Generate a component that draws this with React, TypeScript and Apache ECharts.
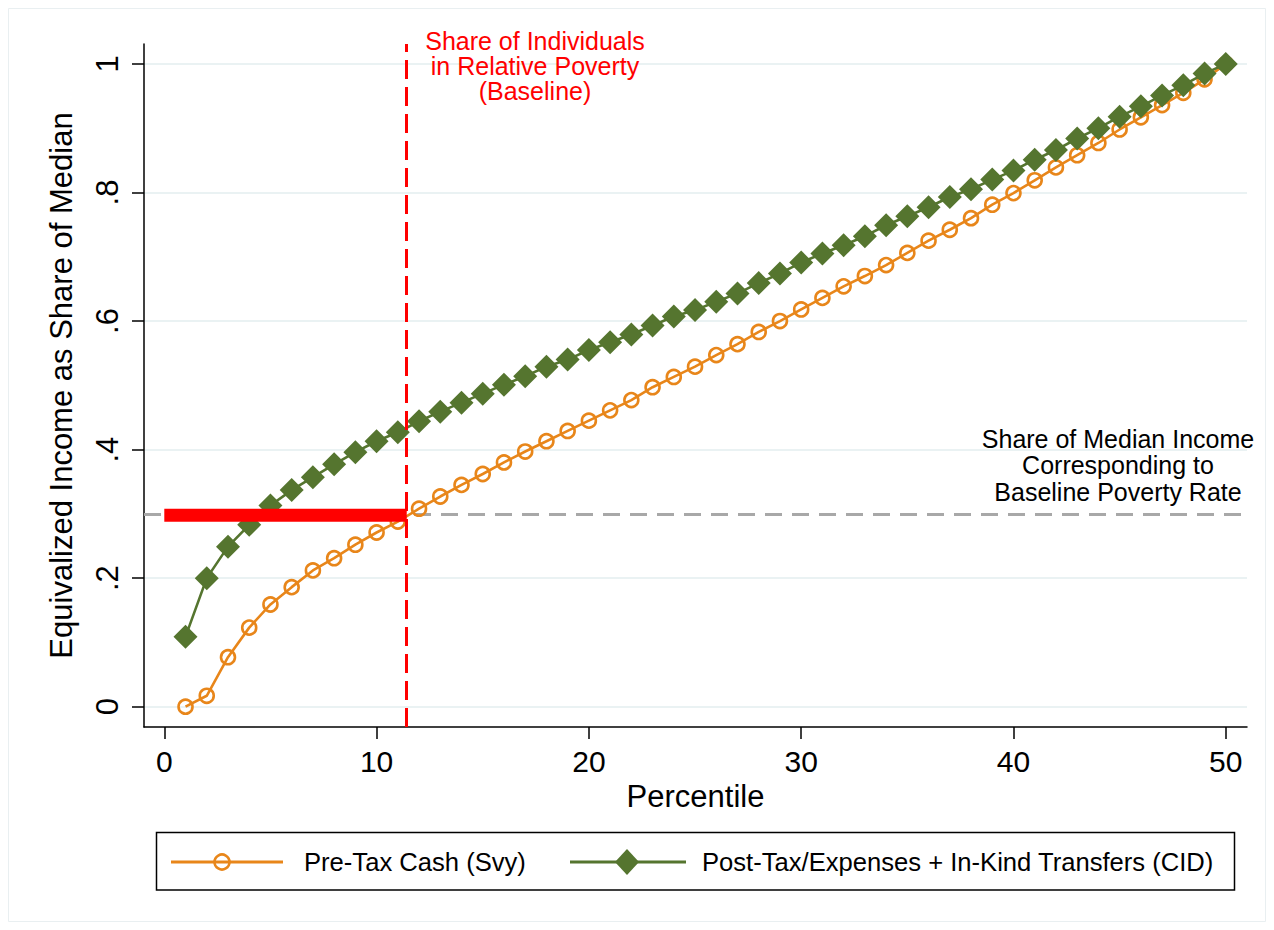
import React, { useEffect, useRef } from 'react';
import * as echarts from 'echarts';

// ---- Data ----
const percentiles = [
  1, 2, 3, 4, 5, 6, 7, 8, 9, 10, 11, 12, 13, 14, 15, 16, 17, 18, 19, 20, 21, 22, 23, 24, 25,
  26, 27, 28, 29, 30, 31, 32, 33, 34, 35, 36, 37, 38, 39, 40, 41, 42, 43, 44, 45, 46, 47, 48, 49, 50,
];
const preTaxCash = [
  0.0, 0.017, 0.077, 0.123, 0.159, 0.186, 0.212, 0.231, 0.252, 0.271,
  0.288, 0.308, 0.327, 0.345, 0.362, 0.38, 0.397, 0.413, 0.429, 0.445,
  0.461, 0.477, 0.497, 0.513, 0.529, 0.547, 0.564, 0.583, 0.6, 0.618,
  0.636, 0.654, 0.67, 0.687, 0.706, 0.725, 0.742, 0.76, 0.781, 0.799,
  0.819, 0.839, 0.858, 0.877, 0.898, 0.917, 0.936, 0.955, 0.976, 1.0,
];
const postTaxInKind = [
  0.109, 0.2, 0.249, 0.283, 0.313, 0.337, 0.357, 0.377, 0.396, 0.413,
  0.427, 0.444, 0.459, 0.473, 0.487, 0.501, 0.514, 0.529, 0.54, 0.555,
  0.567, 0.579, 0.593, 0.607, 0.617, 0.63, 0.643, 0.659, 0.674, 0.691,
  0.705, 0.718, 0.732, 0.749, 0.763, 0.777, 0.793, 0.805, 0.82, 0.834,
  0.851, 0.866, 0.884, 0.9, 0.918, 0.934, 0.951, 0.967, 0.985, 1.0,
];
const seriesNames = ['Pre-Tax Cash (Svy)', 'Post-Tax/Expenses + In-Kind Transfers (CID)'];
const xTicks = [0, 10, 20, 30, 40, 50];
const xTickLabels = ['0', '10', '20', '30', '40', '50'];
const yTicks = [0, 0.2, 0.4, 0.6, 0.8, 1];
const yTickLabels = ['0', '.2', '.4', '.6', '.8', '1'];
const povertyPercentile = 11.42;
const povertyShare = 0.2977;
const xTitle = 'Percentile';
const yTitle = 'Equivalized Income as Share of Median';
const redNote = ['Share of Individuals', 'in Relative Poverty', '(Baseline)'];
const blackNote = ['Share of Median Income', 'Corresponding to', 'Baseline Poverty Rate'];

// ---- Styles ----
const FONT = '"Liberation Sans", Arial, Helvetica, sans-serif';
const ORANGE = '#e8861a';
const GREEN = '#55752f';
const RED = '#ff0000';
const GRIDC = '#eaf2f3';
const GRAYDASH = '#a8a8a8';

function noteLines(lines: string[], cx: number, firstY: number, step: number, color: string) {
  return lines.map((t, i) => ({
    type: 'text',
    z: 10,
    silent: true,
    x: cx,
    y: firstY + i * step,
    style: {
      text: t,
      fill: color,
      fontSize: 25,
      fontFamily: FONT,
      align: 'center',
      verticalAlign: 'middle',
    },
  }));
}

export default function App() {
  const ref = useRef<HTMLDivElement>(null);

  useEffect(() => {
    if (!ref.current) return;
    const chart = echarts.init(ref.current, undefined, { renderer: 'svg' });
    const legendY = 862;
    const option: any = {
      animation: false,
      backgroundColor: '#ffffff',
      textStyle: { fontFamily: FONT },
      grid: { left: 144, right: 27, top: 44, bottom: 203, containLabel: false, outerBoundsMode: 'none' },
      xAxis: {
        type: 'value',
        min: -0.956,
        max: 51.0,
        axisLine: { show: true, onZero: false, lineStyle: { color: '#000', width: 1.5 } },
        axisTick: { show: true, length: 12, customValues: xTicks, lineStyle: { color: '#000', width: 1.5 } },
        axisLabel: {
          show: true,
          customValues: xTicks,
          fontSize: 30,
          color: '#000',
          margin: 19,
          fontFamily: FONT,
          formatter: (v: number) => xTickLabels[Math.round(v / 10)],
        },
        splitLine: { show: false },
        name: xTitle,
        nameLocation: 'middle',
        nameGap: 53,
        nameTextStyle: { fontSize: 31, color: '#000', fontFamily: FONT },
      },
      yAxis: {
        type: 'value',
        min: -0.0316,
        max: 1.031,
        axisLine: { show: true, onZero: false, lineStyle: { color: '#000', width: 1.5 } },
        axisTick: { show: true, length: 12, customValues: yTicks, lineStyle: { color: '#000', width: 1.5 } },
        axisLabel: {
          show: true,
          customValues: yTicks,
          rotate: 90,
          fontSize: 31,
          color: '#000',
          margin: 21,
          fontFamily: FONT,
          formatter: (v: number) => yTickLabels[Math.round(v / 0.2)],
        },
        splitLine: { show: true, lineStyle: { color: GRIDC, width: 2 } },
        name: yTitle,
        nameLocation: 'middle',
        nameGap: 67,
        nameTextStyle: { fontSize: 31, color: '#000', fontFamily: FONT },
      },
      series: [
        {
          name: 'baselineShare',
          type: 'line',
          data: [[povertyPercentile, povertyShare]],
          symbol: 'none',
          showSymbol: false,
          silent: true,
          z: 1,
          lineStyle: { width: 0 },
          markLine: {
            silent: true,
            z: 1,
            symbol: ['none', 'none'],
            label: { show: false },
            emphasis: { disabled: true },
            lineStyle: { color: GRAYDASH, width: 3, type: [17, 10] },
            data: [{ yAxis: povertyShare }],
          },
        },
        {
          name: seriesNames[0],
          type: 'line',
          data: percentiles.map((p, i) => [p, preTaxCash[i]]),
          symbol: 'circle',
          symbolSize: 14,
          silent: true,
          z: 3,
          itemStyle: { color: 'rgba(0,0,0,0)', borderColor: ORANGE, borderWidth: 2.6 },
          lineStyle: { color: ORANGE, width: 2.6 },
          emphasis: { disabled: true },
        },
        {
          name: seriesNames[1],
          type: 'line',
          data: percentiles.map((p, i) => [p, postTaxInKind[i]]),
          symbol: 'diamond',
          symbolSize: 24,
          silent: true,
          z: 4,
          itemStyle: { color: GREEN },
          lineStyle: { color: GREEN, width: 2.6 },
          emphasis: { disabled: true },
        },
        {
          name: 'povertyBar',
          type: 'line',
          data: [
            [0, povertyShare],
            [povertyPercentile, povertyShare],
          ],
          symbol: 'none',
          silent: true,
          z: 5,
          lineStyle: { color: RED, width: 13, cap: 'butt' },
          emphasis: { disabled: true },
          markLine: {
            silent: true,
            z: 6,
            symbol: ['none', 'none'],
            label: { show: false },
            emphasis: { disabled: true },
            lineStyle: { color: RED, width: 3, type: [19, 8] },
            data: [{ xAxis: povertyPercentile }],
          },
        },
      ],
      graphic: [
        {
          type: 'rect',
          z: -1,
          silent: true,
          shape: { x: 8.5, y: 8.5, width: 1257, height: 913 },
          style: { fill: 'none', stroke: '#e9eff1', lineWidth: 1 },
        },
        ...noteLines(redNote, 535, 40.5, 25, RED),
        ...noteLines(blackNote, 1118, 438.5, 26.5, '#000'),
        {
          type: 'group',
          z: 10,
          silent: true,
          children: [
            {
              type: 'rect',
              shape: { x: 156.5, y: 832.5, width: 1078, height: 57.5 },
              style: { fill: '#fff', stroke: '#000', lineWidth: 1.5 },
            },
            {
              type: 'line',
              shape: { x1: 171, y1: legendY, x2: 283, y2: legendY },
              style: { stroke: ORANGE, lineWidth: 3 },
            },
            {
              type: 'circle',
              shape: { cx: 222, cy: legendY, r: 7.5 },
              style: { fill: 'rgba(0,0,0,0)', stroke: ORANGE, lineWidth: 2.6 },
            },
            {
              type: 'text',
              x: 304,
              y: legendY,
              style: { text: seriesNames[0], fill: '#000', fontSize: 25.6, fontFamily: FONT, align: 'left', verticalAlign: 'middle' },
            },
            {
              type: 'line',
              shape: { x1: 570, y1: legendY, x2: 686, y2: legendY },
              style: { stroke: GREEN, lineWidth: 3 },
            },
            {
              type: 'polygon',
              shape: { points: [[627, legendY - 13], [639, legendY], [627, legendY + 13], [615, legendY]] },
              style: { fill: GREEN },
            },
            {
              type: 'text',
              x: 702,
              y: legendY,
              style: { text: seriesNames[1], fill: '#000', fontSize: 25.6, fontFamily: FONT, align: 'left', verticalAlign: 'middle' },
            },
          ],
        },
      ],
    };
    chart.setOption(option);
    return () => {
      chart.dispose();
    };
  }, []);

  return (
    <div
      ref={ref}
      style={{ position: 'fixed', left: 0, top: 0, width: 1274, height: 930, background: '#fff' }}
    />
  );
}
